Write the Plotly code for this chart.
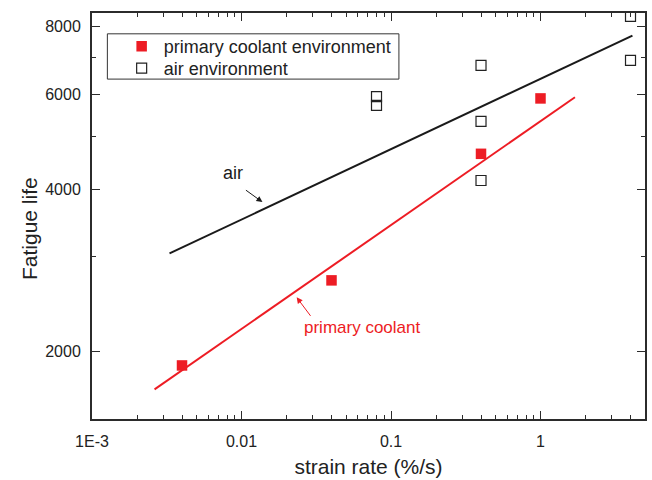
import plotly.graph_objects as go
import numpy as np

# Measured fatigue life versus strain rate
coolant_rate = [0.004, 0.04, 0.4, 1.0]
coolant_life = [1885, 2710, 4650, 5890]

air_rate = [0.08, 0.08, 0.4, 0.4, 0.4, 4.0, 4.0]
air_life = [5935, 5720, 6780, 5340, 4150, 8360, 6930]

# Power-law trend lines (end points)
air_fit_rate = [0.0033, 4.12]
air_fit_life = [3040, 7700]
coolant_fit_rate = [0.00262, 1.70]
coolant_fit_life = [1702, 5920]

x_tickvals = [0.001, 0.01, 0.1, 1]
x_ticktext = ["1E-3", "0.01", "0.1", "1"]
x_minor = [k * 10.0 ** e for e in range(-3, 0) for k in range(2, 10)] + [2, 3, 4]
y_tickvals = [2000, 4000, 6000, 8000]
y_minor = [3000, 5000, 7000]

RED = "#ed1c24"
INK = "#222222"
FONT = "Liberation Sans, Arial, sans-serif"

fig = go.Figure()

fig.add_trace(go.Scatter(
    x=air_fit_rate, y=air_fit_life, mode="lines",
    line=dict(color="#1a1a1a", width=2), showlegend=False, hoverinfo="skip"))
fig.add_trace(go.Scatter(
    x=coolant_fit_rate, y=coolant_fit_life, mode="lines",
    line=dict(color=RED, width=2), showlegend=False, hoverinfo="skip"))

fig.add_trace(go.Scatter(
    x=coolant_rate, y=coolant_life, mode="markers",
    name="primary coolant environment", legend="legend",
    marker=dict(symbol="square", size=10.5, color=RED, line=dict(width=0))))
fig.add_trace(go.Scatter(
    x=air_rate, y=air_life, mode="markers",
    name="air environment", legend="legend2",
    marker=dict(symbol="square-open", size=10, color=INK, line=dict(width=1.2))))

axis_common = dict(
    showline=True, linecolor="#2b2b2b", linewidth=2, mirror="allticks",
    ticks="inside", ticklen=8, tickwidth=1.2, tickcolor="#2b2b2b",
    showgrid=False, zeroline=False,
    tickfont=dict(family=FONT, size=16, color=INK),
)

fig.update_xaxes(
    type="log", range=[-3, np.log10(5)],
    tickvals=x_tickvals, ticktext=x_ticktext, ticklabelstandoff=7,
    minor=dict(tickvals=x_minor, ticks="inside", ticklen=4, tickwidth=1.2, tickcolor="#2b2b2b"),
    title=dict(text="strain rate (%/s)", font=dict(family=FONT, size=21, color=INK), standoff=10),
    **axis_common)
fig.update_yaxes(
    type="log", range=[np.log10(1500), np.log10(8480)],
    tickvals=y_tickvals, ticktext=[str(v) for v in y_tickvals], ticklabelstandoff=6,
    minor=dict(tickvals=y_minor, ticks="inside", ticklen=4, tickwidth=1.2, tickcolor="#2b2b2b"),
    **axis_common)

# Vertical axis caption
fig.add_annotation(x=-0.112, y=0.468, xref="paper", yref="paper", text="Fatigue life",
                   textangle=-90, showarrow=False, xanchor="center", yanchor="middle",
                   font=dict(family=FONT, size=21, color=INK))

# Arrow labels pointing at the trend lines
fig.add_annotation(x=-1.86, y=3.578, xref="x", yref="y", ax=-18, ay=-13,
                   text="", showarrow=True, arrowhead=2, arrowsize=1.2,
                   arrowwidth=1, arrowcolor="#1a1a1a")
fig.add_annotation(x=-2.055, y=3.632, xref="x", yref="y", text="air",
                   showarrow=False, font=dict(family=FONT, size=18, color="#1a1a1a"))
fig.add_annotation(x=-1.631, y=3.4015, xref="x", yref="y", ax=15, ay=20,
                   text="", showarrow=True, arrowhead=2, arrowsize=1.2,
                   arrowwidth=1, arrowcolor=RED)
fig.add_annotation(x=-1.595, y=3.345, xref="x", yref="y", text="primary coolant",
                   xanchor="left", showarrow=False, font=dict(family=FONT, size=17, color=RED))

# Frame around the two legend entries
fig.add_shape(type="rect", xref="paper", yref="paper",
              x0=0.0278, x1=0.555, y0=0.8372, y1=0.9487,
              line=dict(color="#333333", width=1), fillcolor="white", layer="below")

legend_style = dict(xanchor="left", yanchor="top", bgcolor="rgba(0,0,0,0)",
                    borderwidth=0, itemwidth=34,
                    font=dict(family=FONT, size=18, color=INK))

fig.update_layout(
    width=652, height=480,
    margin=dict(l=92, r=5, t=13, b=57),
    paper_bgcolor="white", plot_bgcolor="white",
    font=dict(family=FONT, color=INK),
    legend=dict(x=0.05, y=0.9629, **legend_style),
    legend2=dict(x=0.05, y=0.9092, **legend_style),
)

fig.write_html("out.html")
